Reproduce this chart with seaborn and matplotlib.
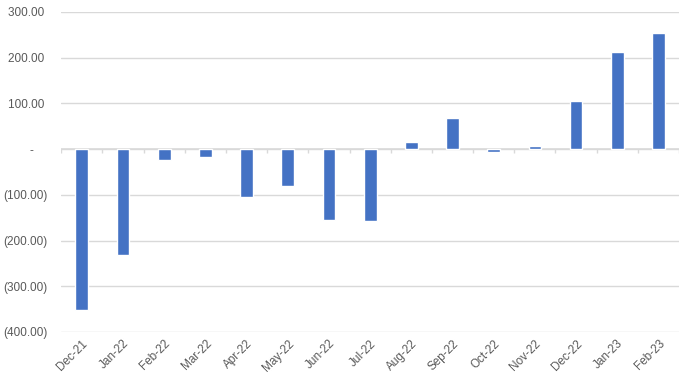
import numpy as np
import pandas as pd
import seaborn as sns
import matplotlib.pyplot as plt
from matplotlib.ticker import FuncFormatter

# data
months = ["Dec-21", "Jan-22", "Feb-22", "Mar-22", "Apr-22", "May-22", "Jun-22", "Jul-22",
          "Aug-22", "Sep-22", "Oct-22", "Nov-22", "Dec-22", "Jan-23", "Feb-23"]
values = [-353, -231, -23, -18, -104, -80, -154, -158,
          15, 68, -7, 6, 105, 212, 254]
y_ticks = [-400, -300, -200, -100, 0, 100, 200, 300]

df = pd.DataFrame({"month": months, "value": values})

sns.set_style("white")
plt.rcParams['font.family'] = ['Liberation Sans', 'DejaVu Sans']

fig = plt.figure(figsize=(6.88, 3.86), dpi=100)
ax = fig.add_axes([0.089, 0.140, 0.898, 0.829])

sns.barplot(data=df, x="month", y="value", color="#4472C4", width=0.31,
            saturation=1, ax=ax, zorder=3)

grey = "#D9D9D9"
text_grey = "#595959"

ax.set_ylim(-400, 300)
ax.set_xlim(-0.5, len(months) - 0.5)
ax.set_yticks(y_ticks)


# accounting style labels like the spreadsheet
def fmt(v, pos):
    if v == 0:
        return "-    "
    if v < 0:
        return "({:,.2f})".format(-v)
    return "{:,.2f} ".format(v)


ax.yaxis.set_major_formatter(FuncFormatter(fmt))
ax.yaxis.grid(True, color=grey, linewidth=1, zorder=0)
ax.set_axisbelow(True)

for s in ax.spines.values():
    s.set_visible(False)

# zero line with category boundary ticks
ax.axhline(0, color=grey, linewidth=1.2, zorder=2)
bounds = np.arange(len(months) + 1) - 0.5
ax.vlines(bounds, 0, -9, color=grey, linewidth=1, zorder=2)

ax.tick_params(axis="y", length=0, labelsize=8.5, labelcolor=text_grey, pad=10)
ax.tick_params(axis="x", length=0, labelsize=8.5, labelcolor=text_grey, pad=4)
plt.setp(ax.get_xticklabels(), rotation=45, ha="right", rotation_mode="anchor")

ax.set_xlabel("")
ax.set_ylabel("")

fig.savefig("out.png", dpi=100)
